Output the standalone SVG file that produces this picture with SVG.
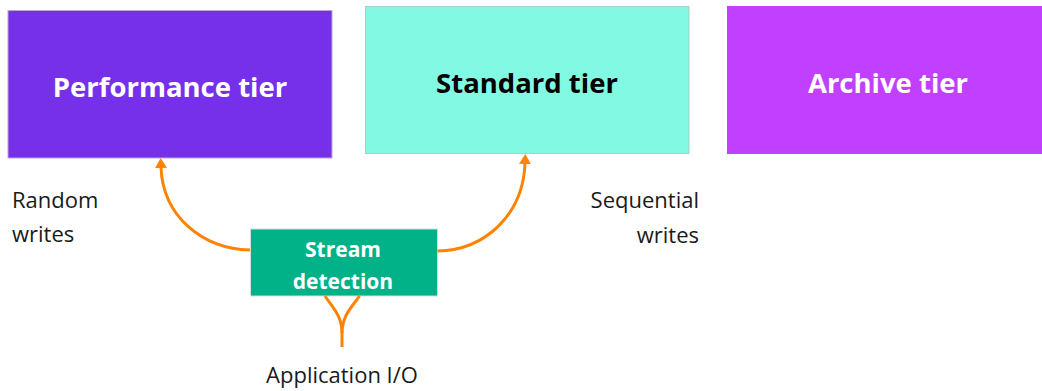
<svg xmlns="http://www.w3.org/2000/svg" width="1042" height="391" viewBox="0 0 1042 391">
  <style>
    .tier { stroke-width: 1; }
    .title { font-family: "Open Sans", "Liberation Sans", sans-serif; font-weight: 700; font-size: 27.5px; text-anchor: middle; }
    .boxlabel { font-family: "Open Sans", "Liberation Sans", sans-serif; font-weight: 700; font-size: 21px; fill: #ffffff; text-anchor: middle; }
    .label { font-family: "Open Sans", "Liberation Sans", sans-serif; font-size: 22px; fill: #1a1a1a; }
    .flow { fill: none; stroke: #ff8300; stroke-width: 3; }
  </style>
  <defs>
    <marker id="arrow" viewBox="0 0 10 12" refX="0.5" refY="6" markerWidth="10" markerHeight="12" markerUnits="userSpaceOnUse" orient="auto">
      <path d="M0,0 L10,6 L0,12 z" fill="#ff8300"/>
    </marker>
  </defs>
  <rect width="1042" height="391" fill="#ffffff"/>

  <!-- storage tiers -->
  <g id="performance-tier">
    <rect class="tier" x="8" y="10.5" width="324" height="147.5" fill="#7630ea" stroke="#b8a8d8"/>
    <text class="title" x="170" y="97" fill="#ffffff">Performance tier</text>
  </g>
  <g id="standard-tier">
    <rect class="tier" x="365.5" y="6.5" width="323.5" height="147" fill="#82f9e2" stroke="#a8d0c8"/>
    <text class="title" x="527" y="93" fill="#000000">Standard tier</text>
  </g>
  <g id="archive-tier">
    <rect x="727" y="6" width="315" height="148" fill="#c140ff"/>
    <text class="title" x="888" y="93" fill="#ffffff">Archive tier</text>
  </g>

  <!-- classifier -->
  <g id="stream-detection">
    <rect x="250.5" y="229" width="187" height="67" fill="#01b288" stroke="#d0e0d8" stroke-width="1"/>
    <text class="boxlabel" x="343" y="257">Stream</text>
    <text class="boxlabel" x="343" y="289">detection</text>
  </g>

  <!-- free labels -->
  <g id="labels">
    <text class="label" x="12" y="207.5">Random</text>
    <text class="label" x="12" y="241.5">writes</text>
    <text class="label" x="699" y="208" text-anchor="end">Sequential</text>
    <text class="label" x="699" y="242.5" text-anchor="end">writes</text>
    <text class="label" x="342" y="382.5" text-anchor="middle" font-size="23px">Application I/O</text>
  </g>

  <!-- connectors -->
  <g id="connectors">
    <path class="flow" d="M250,250 C203,249 163,217 161,167.5" marker-end="url(#arrow)"/>
    <path class="flow" d="M437.5,251 C486,250 523,214 525,163.5" marker-end="url(#arrow)"/>
    <path class="flow" d="M342,347 L342,333 C342,316 333,308 325,296"/>
    <path class="flow" d="M342,333 C342,316 351,308 359.5,296"/>
  </g>
</svg>
